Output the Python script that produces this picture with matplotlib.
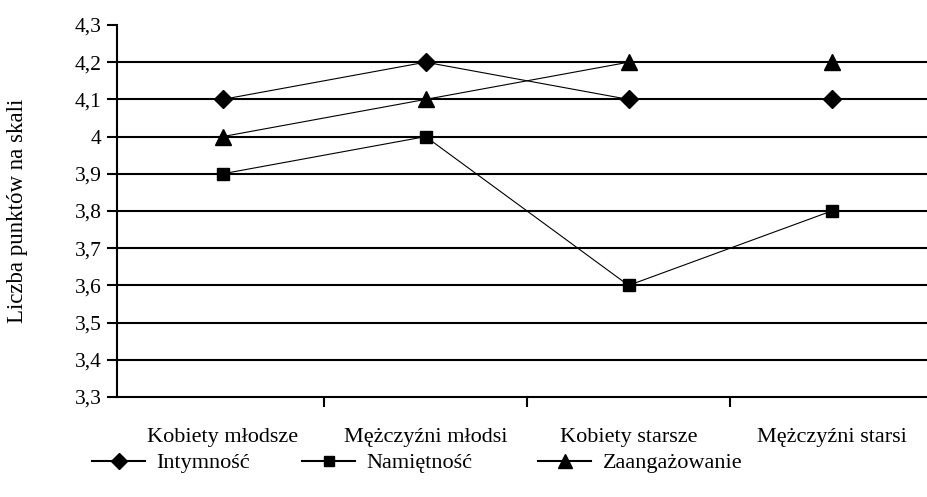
import matplotlib
matplotlib.use("Agg")
import matplotlib.pyplot as plt
from matplotlib.lines import Line2D

plt.rcParams['font.family'] = ['Liberation Serif', 'DejaVu Serif']

categories = ["Kobiety młodsze", "Mężczyźni młodsi", "Kobiety starsze", "Mężczyźni starsi"]
intymnosc = [4.1, 4.2, 4.1, 4.1]
namietnosc = [3.9, 4.0, 3.6, 3.8]
zaangazowanie = [4.0, 4.1, 4.2, 4.2]
series_names = ["Intymność", "Namiętność", "Zaangażowanie"]
y_ticks = [3.3, 3.4, 3.5, 3.6, 3.7, 3.8, 3.9, 4.0, 4.1, 4.2, 4.3]
y_labels = ["3,3", "3,4", "3,5", "3,6", "3,7", "3,8", "3,9", "4", "4,1", "4,2", "4,3"]

W, H = 927, 497
fig = plt.figure(figsize=(W / 100, H / 100), dpi=100)
ax = fig.add_axes([117 / W, 1 - 397 / H, (927 - 117) / W, (397 - 25) / H])

x = list(range(len(categories)))
markers = ['D', 's', '^']
sizes = [9, 8, 11]
data = [intymnosc, namietnosc, zaangazowanie]
handles = []
for vals, m, s, name in zip(data, markers, sizes, series_names):
    ax.plot(x, vals, color='black', lw=0.8, marker=m, ms=s, zorder=3, clip_on=False)
    handles.append(Line2D([], [], color='black', lw=1.5, marker=m, ms=s * 0.9))

ax.set_xlim(-0.52, 3.47)
ax.set_ylim(3.3, 4.3)
ax.set_yticks(y_ticks)
ax.set_yticklabels(y_labels, fontsize=15.5)
ax.set_xticks(x)
ax.set_xticklabels(categories, fontsize=16)
ax.set_xticks([0.5, 1.5, 2.5], minor=True)
ax.tick_params(axis='x', which='major', length=0, pad=22)
ax.tick_params(axis='x', which='minor', length=7, width=1.5, direction='out')
ax.tick_params(axis='y', length=7, width=1.5, direction='out', pad=4)

for sp in ['top', 'right']:
    ax.spines[sp].set_visible(False)
for sp in ['left', 'bottom']:
    ax.spines[sp].set_linewidth(1.5)

ax.set_axisbelow(True)
ax.yaxis.grid(True, color='black', lw=1.5)
ax.get_ygridlines()[-1].set_visible(False)
ax.get_ygridlines()[0].set_visible(False)

fig.text(18 / W, 1 - 211 / H, "Liczba punktów na skali", rotation=90,
         ha='center', va='center', fontsize=16.5)

leg_x = [92, 302, 538]
for h, name, lx in zip(handles, series_names, leg_x):
    fig.legend([h], [name], loc='center left', bbox_to_anchor=(lx / W, 1 - 463 / H),
               frameon=False, fontsize=16, handlelength=2.4, handletextpad=0.5,
               borderpad=0, borderaxespad=0)

fig.savefig("out.png", dpi=100)
